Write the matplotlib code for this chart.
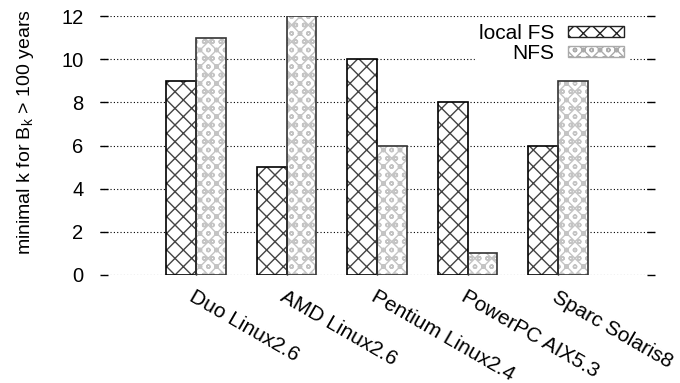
import matplotlib
matplotlib.use("Agg")
import matplotlib.pyplot as plt
from matplotlib.patches import Patch
import numpy as np

# values
systems = ["Duo Linux2.6", "AMD Linux2.6", "Pentium Linux2.4", "PowerPC AIX5.3", "Sparc Solaris8"]
local_fs = [9, 5, 10, 8, 6]
nfs = [11, 12, 6, 1, 9]
yticks = [0, 2, 4, 6, 8, 10, 12]

plt.rcParams['font.family'] = ['Liberation Sans', 'DejaVu Sans']
plt.rcParams['hatch.linewidth'] = 1.0

fig = plt.figure(figsize=(6.8, 3.83), dpi=100)
ax = fig.add_axes([100/680, 1 - 275/383, 555/680, 259/383])

x = np.arange(len(systems))
w = 0.33

# hatch drawn first (grey), then outline on top
ax.bar(x - w/2, local_fs, w, color="white", edgecolor="#444444", hatch="xx", linewidth=0, zorder=2)
ax.bar(x + w/2, nfs, w, color="white", edgecolor="#c4c4c4", hatch="xxoo", linewidth=0, zorder=2)
ax.bar(x - w/2, local_fs, w, fill=False, edgecolor="black", linewidth=1.2, zorder=3)
ax.bar(x + w/2, nfs, w, fill=False, edgecolor="#333333", linewidth=1.2, zorder=3)

# legend proxies
h1 = Patch(facecolor="white", edgecolor="#222222", hatch="xx", linewidth=1.0)
h2 = Patch(facecolor="white", edgecolor="#aaaaaa", hatch="xxoo", linewidth=1.0)
leg = ax.legend([h1, h2], ["local FS", "NFS"], markerfirst=False, fontsize=15,
                loc="upper right", bbox_to_anchor=(628/680, 1 - 20/383),
                bbox_transform=fig.transFigure, borderaxespad=0, borderpad=0.2,
                handlelength=2.7, handleheight=0.45, labelspacing=0.05,
                handletextpad=0.65, frameon=True, fancybox=False)
leg.get_frame().set_facecolor("white")
leg.get_frame().set_edgecolor("white")
leg.get_frame().set_alpha(1)
leg.set_zorder(4)

ax.set_xlim(-1.06, 5.07)
ax.set_ylim(0, 12)
ax.set_yticks(yticks)
ax.yaxis.grid(True, color="black", linestyle=(0, (1, 2)), linewidth=0.8, zorder=1)
ax.set_axisbelow(True)

for s in ax.spines.values():
    s.set_visible(False)

ax.tick_params(axis="y", direction="in", length=6, width=1, left=True, right=True,
               labelsize=14.5, pad=12)
ax.tick_params(axis="x", direction="in", length=6, width=1, bottom=True, top=False,
               labelsize=15, pad=9)
ax.set_xticks(x)
ax.set_xticklabels(systems, rotation=-30, ha="left", va="top", rotation_mode="anchor")

ax.set_ylabel("minimal k for B$_\\mathregular{k}$ > 100 years", fontsize=14)
ax.yaxis.set_label_coords(-0.115, 0.55)

fig.savefig("out.png", dpi=100)
